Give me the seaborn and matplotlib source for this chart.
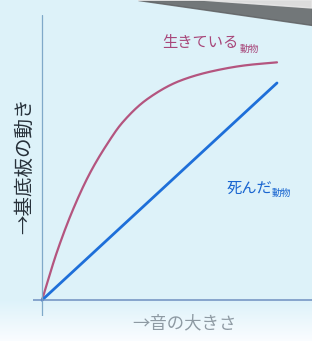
import numpy as np
import pandas as pd
import matplotlib
matplotlib.use("Agg")
import matplotlib.pyplot as plt
from matplotlib.patches import Polygon
import seaborn as sns

# データ（写真から読み取り）
sound_live = [0, 0.63, 1.33, 2.04, 2.75, 3.40, 4.47, 5.87, 7.28, 8.71, 10.0]
move_live = [0, 2.2, 4.2, 5.85, 7.15, 8.15, 9.25, 10.1, 10.55, 10.82, 10.95]
sound_dead = [0, 10.0]
move_dead = [0, 10.0]

label_live = "生きている"
label_dead = "死んだ"
label_animal = "動物"
xlabel = "→音の大きさ"
ylabel = "→基底板の動き"


# 単調3次補間 (Fritsch-Carlson) で曲線をなめらかに
def pchip(x, y, xs):
    x = np.asarray(x, float)
    y = np.asarray(y, float)
    h = np.diff(x)
    delta = np.diff(y) / h
    d = np.zeros_like(y)
    for k in range(1, len(x) - 1):
        if delta[k - 1] * delta[k] > 0:
            w1 = 2 * h[k] + h[k - 1]
            w2 = h[k] + 2 * h[k - 1]
            d[k] = (w1 + w2) / (w1 / delta[k - 1] + w2 / delta[k])
    d[0] = delta[0]
    d[-1] = delta[-1]
    idx = np.clip(np.searchsorted(x, xs) - 1, 0, len(x) - 2)
    t = (xs - x[idx]) / h[idx]
    h00 = 2 * t**3 - 3 * t**2 + 1
    h10 = t**3 - 2 * t**2 + t
    h01 = -2 * t**3 + 3 * t**2
    h11 = t**3 - t**2
    return (h00 * y[idx] + h10 * h[idx] * d[idx]
            + h01 * y[idx + 1] + h11 * h[idx] * d[idx + 1])


sns.set_style("white")
plt.rcParams['font.family'] = ['Noto Sans CJK JP', 'DejaVu Sans']

fig = plt.figure(figsize=(3.12, 3.41), dpi=100)

# 背景（スライドの水色 + 下側の白っぽいぼかし）
bg = fig.add_axes([0, 0, 1, 1])
grad = np.ones((341, 312, 3))
top = np.array([0.87, 0.95, 0.98])
for i in range(341):
    t = min(max((i - 300) / 40, 0), 1)
    grad[i, :, :] = top * (1 - t) + np.array([0.98, 0.99, 1.0]) * t
bg.imshow(grad, extent=[0, 312, 341, 0], aspect='auto')
bg.add_patch(Polygon([[138, 0], [312, 0], [312, 25]], closed=True,
                     color='#5f6163', alpha=0.85))
bg.add_patch(Polygon([[138, 0], [312, 0], [312, 8], [200, 0]], closed=True,
                     color='#e8e8e8', alpha=0.9))
bg.set_xlim(0, 312)
bg.set_ylim(341, 0)
bg.axis('off')

ax = fig.add_axes([33 / 312, 1 - 316 / 341, 1 - 33 / 312, (316 - 15) / 341])
ax.set_facecolor('none')

xs = np.linspace(0, 10, 300)
df_live = pd.DataFrame({'x': xs, 'y': pchip(sound_live, move_live, xs)})
df_dead = pd.DataFrame({'x': sound_dead, 'y': move_dead})

sns.lineplot(data=df_live, x='x', y='y', color='#b4557f', linewidth=1.6, ax=ax)
sns.lineplot(data=df_dead, x='x', y='y', color='#1e6fd9', linewidth=2.0, ax=ax)

ax.axvline(0, color='#7fa9c9', linewidth=0.9)
ax.axhline(0, color='#6f8fc0', linewidth=1.1)

ax.set_xlim(-0.383, 11.49)
ax.set_ylim(-0.73, 13.13)
for s in ax.spines.values():
    s.set_visible(False)
ax.set_xticks([])
ax.set_yticks([])
ax.set_xlabel('')
ax.set_ylabel('')

# ラベル
ax.text(5.1, 11.85, label_live, color='#a8477a', fontsize=11, ha='left', va='center')
ax.text(8.4, 11.55, label_animal, color='#a8477a', fontsize=7, ha='left', va='center')
ax.text(7.85, 5.15, label_dead, color='#1a66d0', fontsize=11, ha='left', va='center')
ax.text(9.75, 4.95, label_animal, color='#1a66d0', fontsize=7, ha='left', va='center')

fig.text(184 / 312, 1 - 323 / 341, xlabel, color='#8e9aa3', fontsize=12.5,
         ha='center', va='center')
fig.text(25 / 312, 1 - 166 / 341, ylabel, color='#27313a', fontsize=14,
         ha='center', va='center', rotation=90)

fig.savefig('out.png', dpi=100)
